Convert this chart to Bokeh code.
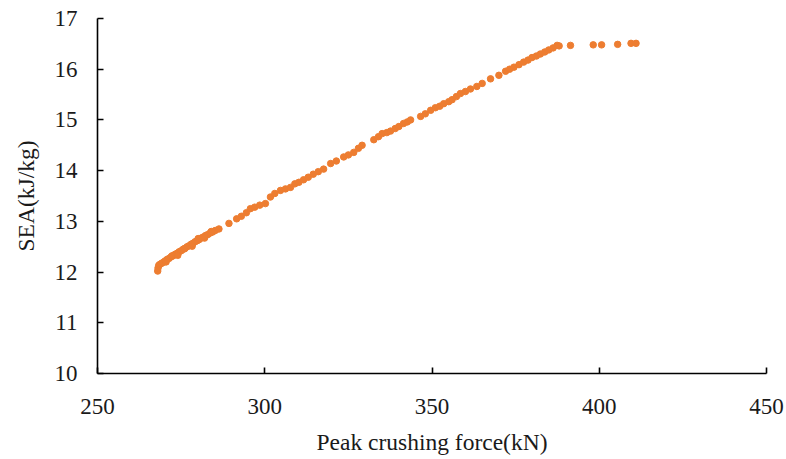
from bokeh.plotting import figure
from bokeh.models import Range1d, FixedTicker
from bokeh.embed import file_html
from bokeh.resources import INLINE

# Data
peak_force = [
    268.0, 268.1, 268.3, 268.6, 269.1, 269.6, 270.2, 270.8, 271.4, 272.0,
    272.6, 273.2, 273.8, 274.4, 275.0, 275.6, 276.2, 276.8, 277.4, 278.0,
    278.6, 279.2, 279.8, 280.4, 281.0, 281.6, 282.3, 283.0, 283.7, 284.4,
    285.2, 286.3, 289.3, 291.6, 293.0, 294.5, 295.7, 297.0, 298.5, 300.2,
    301.7, 303.0, 304.7, 306.2, 307.7, 309.0, 310.2, 311.6, 313.0, 314.5,
    316.0, 317.6, 319.7, 321.4, 323.6, 325.0, 326.6, 328.0, 329.1, 332.6,
    334.0, 335.1, 336.5, 337.6, 339.0, 340.1, 341.5, 342.6, 343.6, 346.6,
    348.0, 349.6, 351.0, 352.3, 353.5, 355.0, 356.0, 357.3, 358.5, 360.0,
    361.5, 363.4, 365.0, 367.5, 370.0, 372.0, 373.2, 374.5, 376.0, 377.4,
    378.7, 379.9, 381.2, 382.4, 383.7, 384.9, 386.2, 387.4, 388.0, 391.4,
    398.2, 400.7, 405.5, 409.5, 411.0,
    270.5, 272.3, 274.0, 276.0, 278.3, 280.1, 282.0, 284.0,
]
sea = [
    12.02, 12.08, 12.13, 12.15, 12.17, 12.19, 12.22, 12.25, 12.27, 12.30,
    12.32, 12.35, 12.37, 12.40, 12.42, 12.45, 12.47, 12.50, 12.52, 12.55,
    12.57, 12.60, 12.62, 12.64, 12.67, 12.69, 12.72, 12.74, 12.77, 12.79,
    12.82, 12.85, 12.96, 13.05, 13.10, 13.17, 13.25, 13.28, 13.32, 13.35,
    13.48, 13.55, 13.61, 13.64, 13.67, 13.74, 13.77, 13.82, 13.87, 13.93,
    13.98, 14.03, 14.14, 14.19, 14.27, 14.31, 14.36, 14.44, 14.50, 14.61,
    14.67, 14.73, 14.75, 14.78, 14.83, 14.87, 14.93, 14.96, 15.00, 15.07,
    15.12, 15.19, 15.24, 15.27, 15.32, 15.36, 15.40, 15.46, 15.52, 15.56,
    15.61, 15.66, 15.72, 15.81, 15.88, 15.96, 16.00, 16.04, 16.09, 16.14,
    16.18, 16.23, 16.26, 16.30, 16.34, 16.38, 16.42, 16.47, 16.46, 16.47,
    16.48, 16.48, 16.49, 16.51, 16.51,
    12.20, 12.32, 12.33, 12.46, 12.51, 12.66, 12.67, 12.80,
]
x_ticks = [250, 300, 350, 400, 450]
y_ticks = [10, 11, 12, 13, 14, 15, 16, 17]
x_title = "Peak crushing force(kN)"
y_title = "SEA(kJ/kg)"

FONT = "Liberation Serif"

p = figure(width=786, height=459, output_backend="svg", toolbar_location=None,
           x_range=Range1d(250, 450), y_range=Range1d(10, 17),
           min_border_left=97, min_border_right=20, min_border_top=18,
           min_border_bottom=86)
p.outline_line_color = None
p.grid.visible = False
p.background_fill_color = "white"
p.border_fill_color = "white"

p.scatter(peak_force, sea, size=6.5, color="#ED7D31", line_color="#ED7D31")

for ax, ticks, title in ((p.xaxis[0], x_ticks, x_title), (p.yaxis[0], y_ticks, y_title)):
    ax.ticker = FixedTicker(ticks=ticks)
    ax.minor_tick_line_color = None
    ax.major_tick_in = 6
    ax.major_tick_out = 0
    ax.axis_line_color = "black"
    ax.axis_line_width = 1.6
    ax.major_tick_line_color = "black"
    ax.major_tick_line_width = 1.6
    ax.major_label_text_font = FONT
    ax.major_label_text_font_size = "23px"
    ax.major_label_text_color = "#1a1a1a"
    ax.axis_label = title
    ax.axis_label_text_font = FONT
    ax.axis_label_text_font_size = "23.5px"
    ax.axis_label_text_font_style = "normal"
    ax.axis_label_text_color = "#1a1a1a"

p.xaxis.major_label_standoff = 25
p.xaxis.axis_label_standoff = 12
p.yaxis.major_label_standoff = 20
p.yaxis.axis_label_standoff = 13

open("out.html", "w").write(file_html(p, INLINE))
